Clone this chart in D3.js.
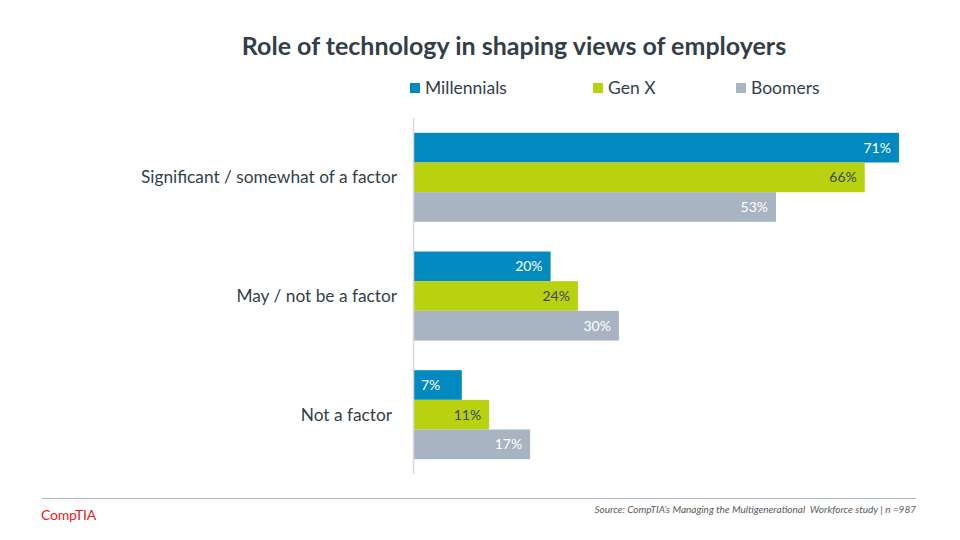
<!DOCTYPE html>
<html><head><meta charset="utf-8">
<script src="https://cdn.jsdelivr.net/npm/d3@7"></script>
<style>
body{margin:0;background:#fff;}
svg text{font-family:Lato, "Open Sans", sans-serif;}
</style></head>
<body><svg id="c" width="960" height="540"></svg>
<script>
const categories = ["Significant / somewhat of a factor", "May / not be a factor", "Not a factor"];
const seriesNames = ["Millennials", "Gen X", "Boomers"];
const millennials = [71, 20, 7];
const genX = [66, 24, 11];
const boomers = [53, 30, 17];
const seriesValues = [millennials, genX, boomers];
const colors = ["#0289c0", "#b8d20f", "#a8b4c1"];
const labelColors = ["#ffffff", "#3a4650", "#ffffff"];

const svg = d3.select("#c");
const dark = "#333f48";

svg.append("text").attr("x", 514).attr("y", 55).attr("text-anchor", "middle")
  .attr("font-size", 25).attr("font-weight", "bold").attr("fill", dark)
  .text("Role of technology in shaping views of employers");

const x = d3.scaleLinear().domain([0, 100]).range([414, 1097]);
const y = d3.scaleBand().domain(categories).range([118, 474]).paddingInner(0.25).paddingOuter(0.125);
const ys = d3.scaleBand().domain(seriesNames).range([0, y.bandwidth()]);

// legend
const legX = [410, 593, 736];
const leg = svg.append("g");
seriesNames.forEach((s, i) => {
  leg.append("rect").attr("x", legX[i]).attr("y", 83).attr("width", 10).attr("height", 10).attr("fill", colors[i]);
  leg.append("text").attr("x", legX[i] + 15).attr("y", 94).attr("font-size", 17.5).attr("fill", dark).text(s);
});

// bars
const data = [];
categories.forEach((c, ci) => seriesNames.forEach((s, si) => data.push({c, s, si, v: seriesValues[si][ci]})));
svg.append("g").selectAll("rect").data(data).join("rect")
  .attr("x", x(0)).attr("y", d => y(d.c) + ys(d.s))
  .attr("width", d => x(d.v) - x(0)).attr("height", ys.bandwidth())
  .attr("fill", d => colors[d.si]);

svg.append("g").selectAll("text").data(data).join("text")
  .attr("x", d => d.v < 10 ? x(0) + 7 : x(d.v) - 8)
  .attr("text-anchor", d => d.v < 10 ? "start" : "end")
  .attr("y", d => y(d.c) + ys(d.s) + ys.bandwidth() / 2 + 5)
  .attr("font-size", 14).attr("fill", d => labelColors[d.si])
  .text(d => d.v + "%");

// axis
svg.append("line").attr("x1", 413.5).attr("x2", 413.5).attr("y1", 118).attr("y2", 474)
  .attr("stroke", "#d9d9d9").attr("stroke-width", 1.5);
svg.append("g").selectAll("text").data(categories).join("text")
  .attr("x", (d, i) => i === 2 ? 392 : 397).attr("y", d => y(d) + y.bandwidth() / 2 + 6)
  .attr("text-anchor", "end").attr("font-size", 17.3).attr("fill", dark).text(d => d);

// footer
svg.append("line").attr("x1", 42).attr("x2", 916).attr("y1", 498.5).attr("y2", 498.5)
  .attr("stroke", "#a9b8c6").attr("stroke-width", 1);
svg.append("text").attr("x", 41).attr("y", 520).attr("font-size", 14).attr("fill", "#e2231a")
  .attr("letter-spacing", -0.2).attr("font-family", "Liberation Sans, Arial, sans-serif").text("CompTIA");
svg.append("text").attr("x", 916).attr("y", 513).attr("text-anchor", "end").attr("font-size", 10)
  .attr("font-style", "italic").attr("fill", "#595959").attr("xml:space", "preserve")
  .text("Source: CompTIA\u2019s Managing the Multigenerational  Workforce study | n =987");
</script></body></html>
